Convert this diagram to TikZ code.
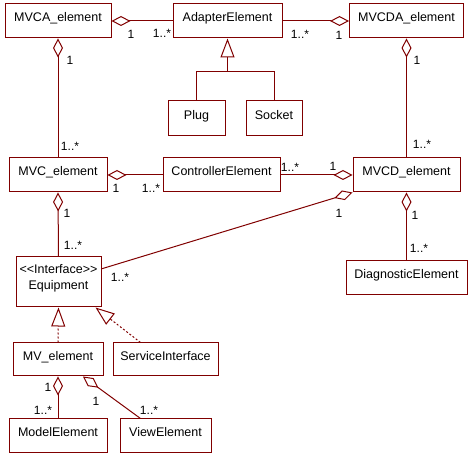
\documentclass[tikz,border=0pt]{standalone}
\usepackage{fontspec}
\setmainfont{Liberation Sans}[Ligatures=TeXOff]
\usetikzlibrary{arrows.meta}
\definecolor{umlred}{RGB}{128,0,0}
\tikzset{
  cls/.style={draw=umlred, line width=1pt, minimum height=34pt, inner sep=2pt,
    text height=9pt, text depth=7pt, align=center,
    font=\fontsize{12.5}{16}\selectfont},
  mult/.style={inner sep=0pt, font=\fontsize{12}{14}\selectfont},
  link/.style={draw=umlred, line width=1pt},
  agg/.style={link, {Diamond[open, length=19pt, width=10pt]}-},
  gen/.style={link, -{Triangle[open, length=19pt, width=14pt]}},
  real/.style={gen, dash pattern=on 2pt off 2pt}
}
\begin{document}
\begin{tikzpicture}[x=1pt, y=-1pt]
  \useasboundingbox (0,0) rectangle (472,457);
  \path
    (58,21) node[cls, minimum width=106pt] (mvca){MVCA\_element}
    (227.5,21) node[cls, minimum width=109pt] (adapter){AdapterElement}
    (406.5,21) node[cls, minimum width=114pt] (mvcda){MVCDA\_element}
    (196.5,118.5) node[cls, minimum width=57pt, minimum height=35pt] (plug){Plug}
    (274,118.5) node[cls, minimum width=56pt, minimum height=35pt] (socket){Socket}
    (58,175) node[cls, minimum width=98pt] (mvc){MVC\_element}
    (221.5,175) node[cls, minimum width=117pt] (ctrl){ControllerElement}
    (406.5,175) node[cls, minimum width=107pt] (mvcd){MVCD\_element}
    (406.5,278) node[cls, minimum width=121pt] (diag){DiagnosticElement}
    (58.5,282) node[cls, minimum width=85pt, minimum height=50pt,
      text height=25pt, text depth=9pt] (equip){<<Interface>>\\Equipment}
    (58,359.5) node[cls, minimum width=90pt, minimum height=33pt] (mv){MV\_element}
    (165.5,359.5) node[cls, minimum width=105pt, minimum height=33pt] (service){ServiceInterface}
    (58,436) node[cls, minimum width=98pt] (model){ModelElement}
    (165.5,436) node[cls, minimum width=91pt] (view){ViewElement};
  \coordinate (split) at (227.5,72);
  % connectors
  \draw[agg] (mvca.east) -- (adapter.west);
  \draw[agg] (mvcda.west) -- (adapter.east);
  \draw[agg] (mvca.south) -- (mvc.north);
  \draw[agg] (mvcda.south) -- (mvcd.north);
  \draw[link] (socket.north) |- (split);
  \draw[gen] (plug.north) |- (split) -- (adapter.south);
  \draw[agg] (mvc.east) -- (ctrl.west);
  \draw[agg] (mvcd.west) -- (ctrl.east);
  \draw[agg] (mvc.south) -- (equip.north);
  \draw[agg] (mvcd.south) -- (diag.north);
  \draw[agg] (mvcd.south west) -- (equip.17);
  \draw[real] (mv.north) -- (equip.south);
  \draw[real] ([xshift=-25pt]service.north) -- ([xshift=-6pt]equip.south east);
  \draw[agg] (mv.south) -- (model.north);
  \draw[agg] ([xshift=25pt]mv.south) -- ([xshift=-25pt]view.north);
  % multiplicities
  \path[mult]
    (131,34) node (m1){1}
    (162,33) node (m2){1..*}
    (300,34) node (m3){1..*}
    (339,35) node (m4){1}
    (70,60) node (m5){1}
    (417,60) node (m6){1}
    (70,146) node (m7){1..*}
    (422,144) node (m8){1..*}
    (116,188) node (m9){1}
    (151,188) node (m10){1..*}
    (290,167) node (m11){1..*}
    (333,166) node (m12){1}
    (339,213) node (m13){1}
    (415,215) node (m14){1}
    (419,248) node (m15){1..*}
    (67,213) node (m16){1}
    (73,245) node (m17){1..*}
    (120,277) node (m18){1..*}
    (48,387) node (m19){1}
    (43,410) node (m20){1..*}
    (96,401) node (m21){1}
    (149,410) node (m22){1..*};
\end{tikzpicture}
\end{document}
